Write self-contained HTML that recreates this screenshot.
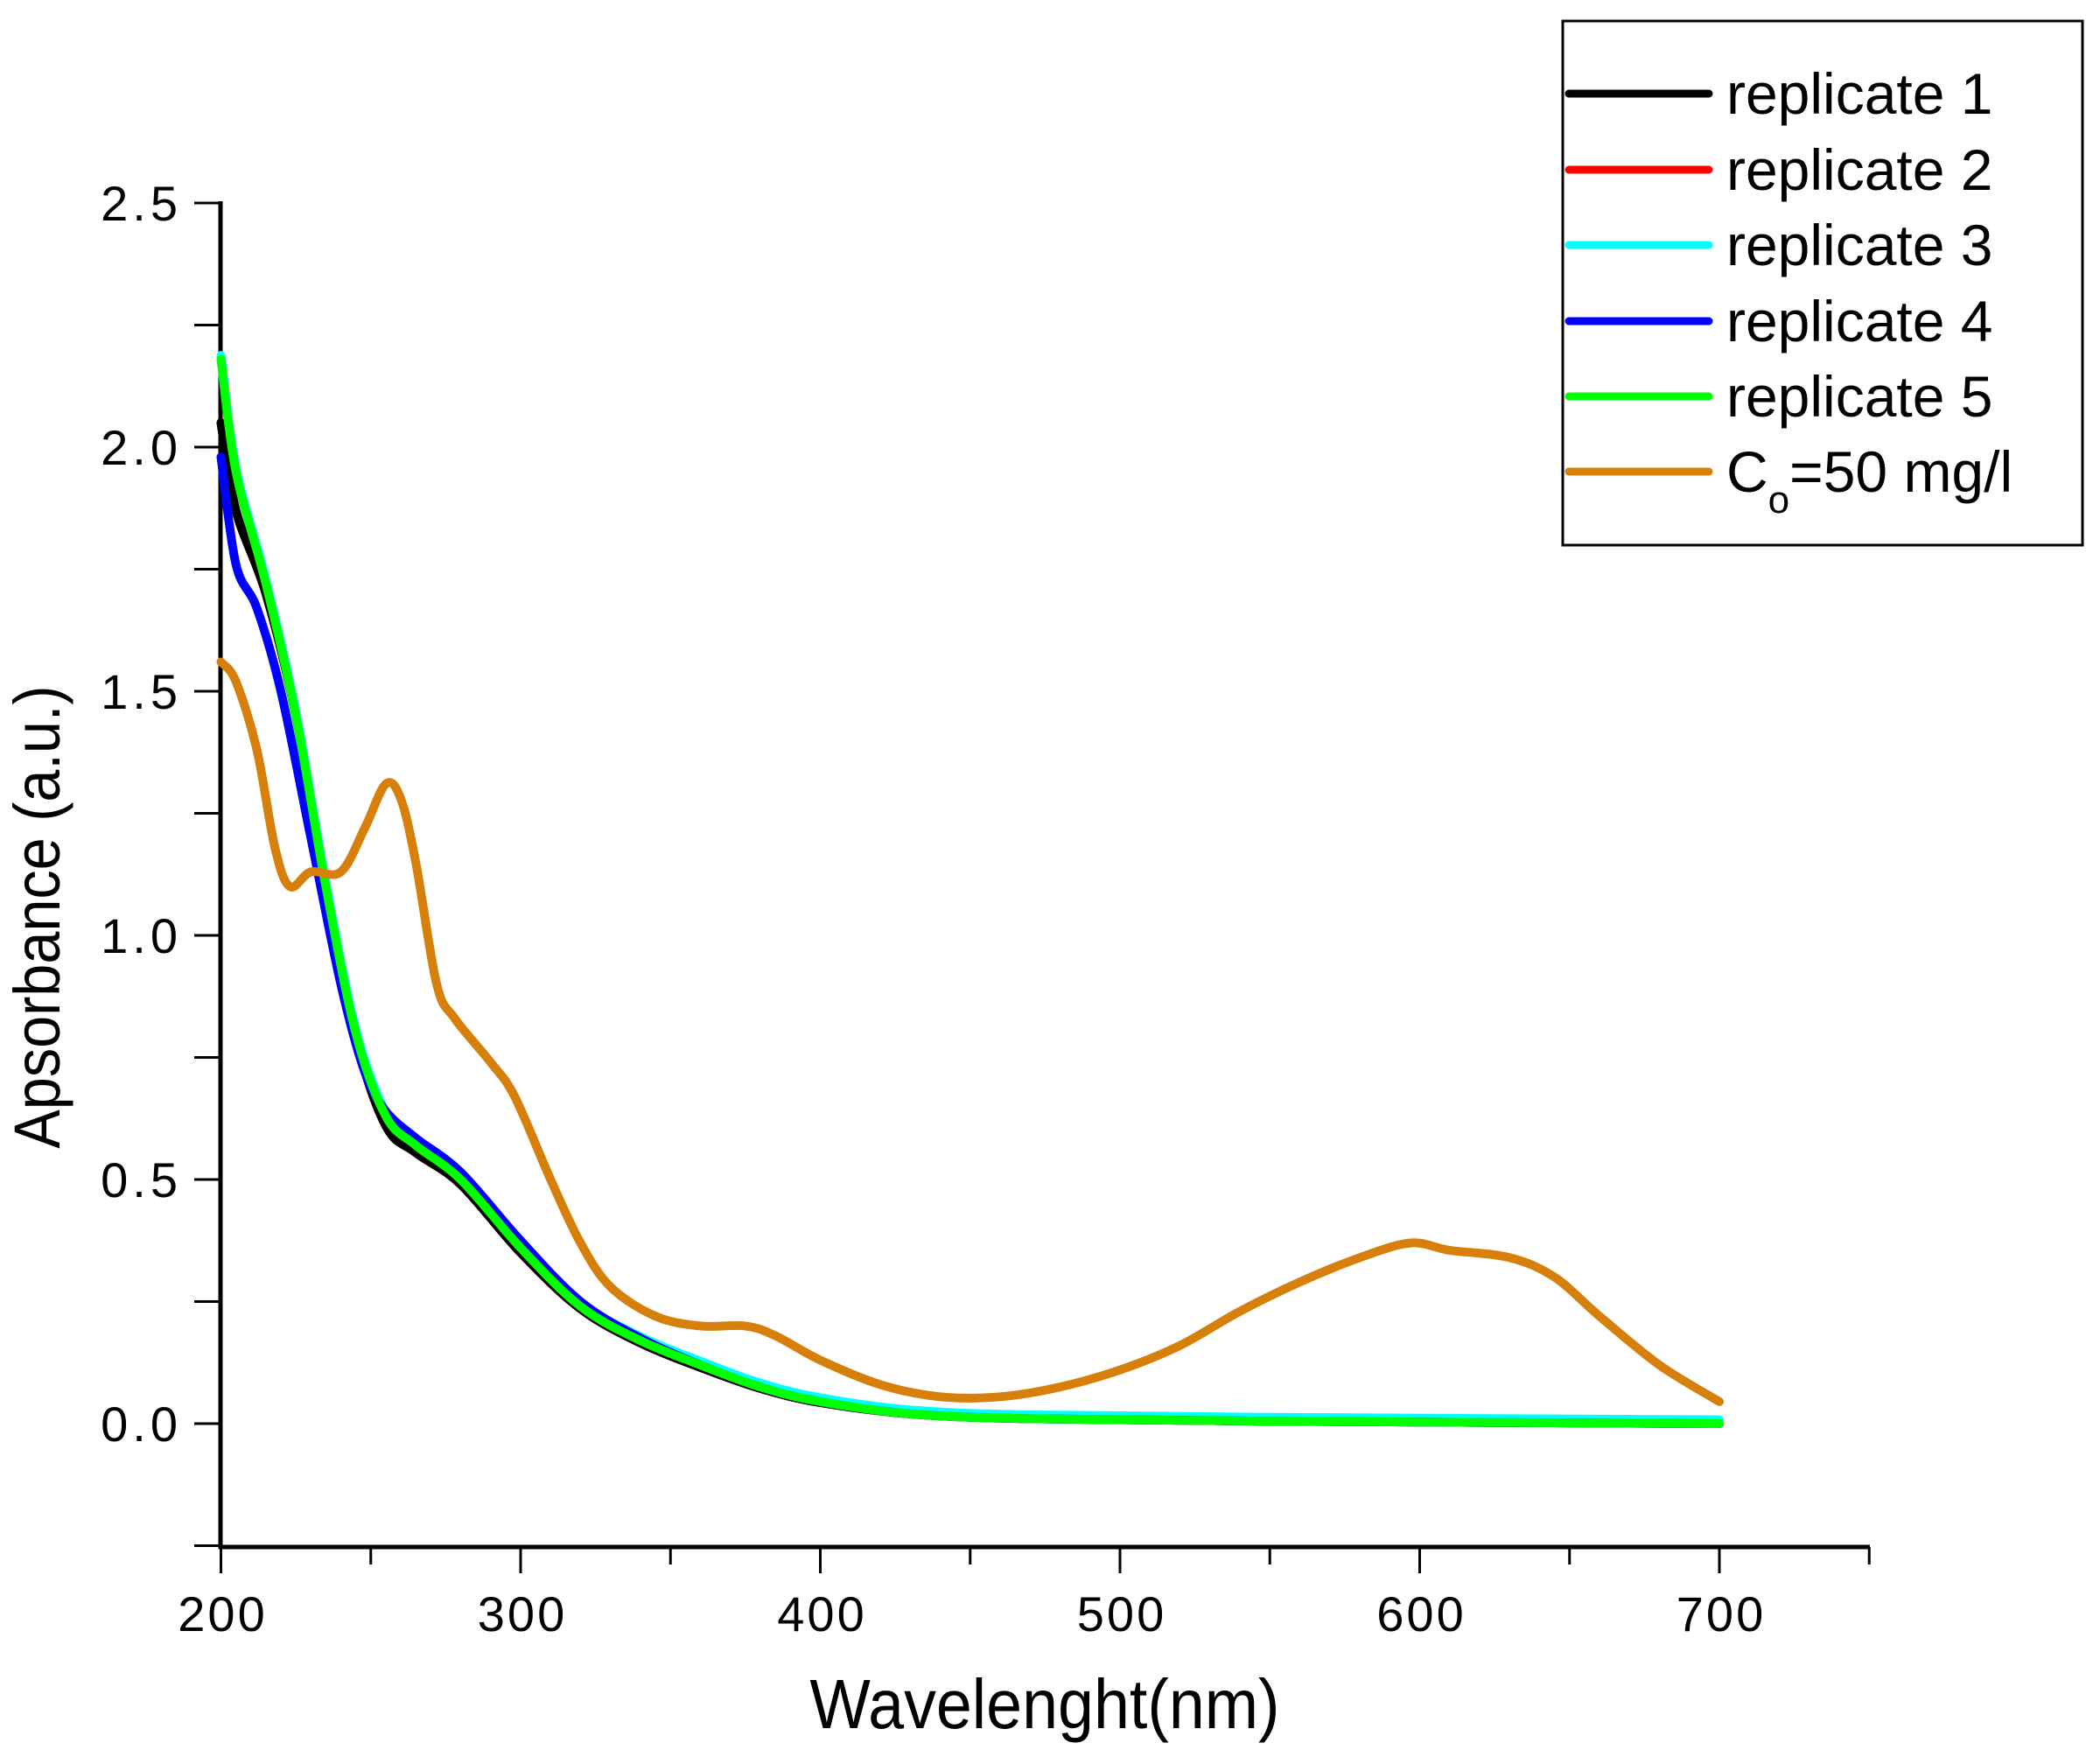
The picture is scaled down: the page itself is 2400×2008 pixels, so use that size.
<!DOCTYPE html>
<html><head><meta charset="utf-8"><style>
html,body{margin:0;padding:0;background:#fff;}
svg{display:block;}
text{font-family:"Liberation Sans",sans-serif;fill:#000;}
</style></head><body>
<svg id="s" width="2400" height="2008" viewBox="0 0 2400 2008" xmlns="http://www.w3.org/2000/svg">
<g stroke="#000" stroke-width="5" fill="none">
<line x1="252" y1="230" x2="252" y2="1770"/>
<line x1="250" y1="1768" x2="2137" y2="1768"/>
</g>
<g stroke="#000" stroke-width="3" id="ticks"></g>
<g font-size="56" text-anchor="end" id="ylab" letter-spacing="5"></g>
<g font-size="56" text-anchor="middle" id="xlab" letter-spacing="3"></g>
<text x="1194" y="1975" font-size="80" text-anchor="middle" transform="translate(1194 0) scale(0.92 1) translate(-1194 0)">Wavelenght(nm)</text>
<text font-size="74" text-anchor="middle" transform="translate(68 1048) rotate(-90) scale(0.9 1)">Apsorbance (a.u.)</text>
<g id="curves" fill="none" stroke-width="10" stroke-linejoin="round" stroke-linecap="round"></g>
<rect x="1786" y="24" width="594" height="599" fill="#fff" stroke="#000" stroke-width="3"/>
<g stroke-width="9" stroke-linecap="round">
<line x1="1793" y1="107" x2="1953" y2="107" stroke="#000"/>
<line x1="1793" y1="194" x2="1953" y2="194" stroke="#ff0000"/>
<line x1="1793" y1="280" x2="1953" y2="280" stroke="#00ffff"/>
<line x1="1793" y1="367" x2="1953" y2="367" stroke="#0000ff"/>
<line x1="1793" y1="453" x2="1953" y2="453" stroke="#00ff00"/>
<line x1="1793" y1="539" x2="1953" y2="539" stroke="#d67f0a"/>
</g>
<g font-size="66">
<text x="1973" y="130">replicate 1</text>
<text x="1973" y="217">replicate 2</text>
<text x="1973" y="303">replicate 3</text>
<text x="1973" y="390">replicate 4</text>
<text x="1973" y="476">replicate 5</text>
<text x="1973" y="562">C<tspan font-size="44" dy="24">o</tspan><tspan dy="-24">=50 mg/l</tspan></text>
</g>
</svg>
<script>
var X=function(n){return 252.5+(n-200)*3.425;},Y=function(a){return 1627-a*558;};
var t=document.getElementById('ticks'),yl=document.getElementById('ylab'),xl=document.getElementById('xlab');
var ns='http://www.w3.org/2000/svg';
function el(p,tag,at,txt){var e=document.createElementNS(ns,tag);for(var k in at)e.setAttribute(k,at[k]);if(txt)e.textContent=txt;p.appendChild(e);}
for(var a=-0.25;a<=2.51;a+=0.25){var y=Y(a);var maj=Math.abs(a*2-Math.round(a*2))<1e-6;el(t,'line',{x1:222,y1:y,x2:252,y2:y});
 if(maj)el(yl,'text',{x:208,y:y+20},a.toFixed(1));}
for(var n=200;n<=750;n+=50){var x=X(n);var maj=n%100==0;el(t,'line',{x1:x,y1:1768,x2:x,y2:maj?1798:1788});
 if(maj)el(xl,'text',{x:x+2,y:1864},String(n));}
function path(d){var p=d.map(function(q){return[X(q[0]),Y(q[1])];});var s='M'+p[0][0]+' '+p[0][1];
 for(var i=0;i<p.length-1;i++){var p0=p[i-1]||p[i],p1=p[i],p2=p[i+1],p3=p[i+2]||p2;
 s+=' C'+(p1[0]+(p2[0]-p0[0])/6)+' '+(p1[1]+(p2[1]-p0[1])/6)+' '+(p2[0]-(p3[0]-p1[0])/6)+' '+(p2[1]-(p3[1]-p1[1])/6)+' '+p2[0]+' '+p2[1];}return s;}
var tail=[[255,0.63],[265,0.57],[280,0.5],[300,0.36],[320,0.24],[340,0.17],[360,0.12],[380,0.075],[400,0.045],[430,0.02],[470,0.01],[550,0.005],[700,0.0]];
function sh(arr,d){return arr.map(function(q){return[q[0],q[1]+d];});}
var black=[[200,2.05],[205,1.87],[215,1.7],[225,1.45],[235,1.1],[245,0.79],[255,0.61],[265,0.555],[280,0.49],[300,0.35],[320,0.235],[340,0.165],[360,0.115],[380,0.072],[400,0.043],[430,0.02],[470,0.01],[550,0.005],[700,0.0]];
var blue=[[200,1.98],[205,1.76],[212,1.67],[220,1.5],[230,1.2],[240,0.9],[248,0.72],[255,0.64],[265,0.585],[280,0.515],[300,0.375],[320,0.25],[340,0.175],[360,0.12],[380,0.075],[400,0.045],[430,0.02],[470,0.01],[550,0.005],[700,0.0]];
var green=[[200,2.18],[205,1.95],[215,1.72],[225,1.45],[235,1.1],[245,0.8]].concat(tail);
var orange=[[200,1.56],[205,1.52],[212,1.38],[218,1.18],[223,1.1],[230,1.13],[240,1.13],[248,1.22],[255,1.31],[260,1.28],[265,1.15],[272,0.9],[278,0.83],[290,0.74],[298,0.67],[310,0.5],[320,0.37],[330,0.28],[345,0.22],[360,0.2],[375,0.2],[385,0.18],[400,0.13],[420,0.08],[440,0.055],[460,0.055],[480,0.075],[500,0.11],[520,0.16],[540,0.23],[560,0.29],[580,0.34],[597,0.37],[610,0.355],[630,0.34],[645,0.3],[660,0.22],[680,0.12],[700,0.045]];
var c=document.getElementById('curves');
[[black,'#ff0000'],[black,'#000'],[sh(green,0.008),'#00ffff'],[blue,'#0000ff'],[green,'#00ff00'],[orange,'#d67f0a']].forEach(function(s){el(c,'path',{d:path(s[0]),stroke:s[1]});});
</script>
</body></html>
